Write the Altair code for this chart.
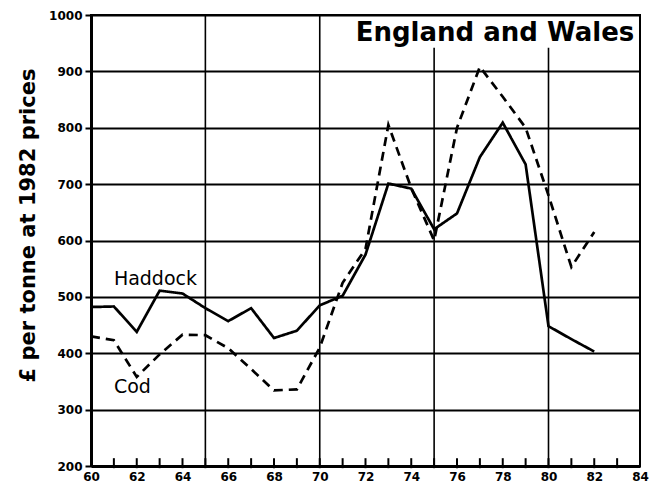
import altair as alt
import pandas as pd

# ---- data ----
years = list(range(60, 83))
haddock = [482, 483, 438, 511, 506, 480, 457, 480, 427, 440, 485, 502,
           575, 701, 692, 620, 648, 748, 809, 735, 448, 425, 403]
cod = [430, 423, 358, 398, 433, 432, 409, 372, 334, 336, 410, 525,
       585, 805, 693, 600, 800, 908, 855, 800, 680, 553, 615]
species = ["Haddock", "Cod"]

x_label_years = list(range(60, 85, 2))
minor_tick_years = list(range(61, 84))
y_ticks = list(range(200, 1001, 100))
grid_years = [65, 70, 75, 80]
grid_tops = [1000, 1000, 942, 942]

label_text = ["Haddock", "Cod"]
label_x = [61.0, 61.0]
label_y = [521, 329]
region_text = ["England and Wales"]
region_x = [83.75]
region_y = [954]

# ---- tables ----
df = pd.DataFrame({
    "year": years * 2,
    "price": haddock + cod,
    "species": ["Haddock"] * len(years) + ["Cod"] * len(years),
})
grid_df = pd.DataFrame({"gx": grid_years, "gtop": grid_tops, "gbot": [200] * len(grid_years)})
tick_df = pd.DataFrame({"tx": minor_tick_years,
                        "tmid": [205.0] * len(minor_tick_years)})
lab_df = pd.DataFrame({"text": label_text, "lx": label_x, "ly": label_y})
reg_df = pd.DataFrame({"text": region_text, "rx": region_x, "ry": region_y})

FONT = "DejaVu Sans"
xscale = alt.Scale(domain=[60, 84], nice=False, zero=False)
yscale = alt.Scale(domain=[200, 1000], nice=False, zero=False)

x_axis = alt.Axis(values=x_label_years, ticks=False, grid=False, title=None,
                  labelFont=FONT, labelFontWeight="bold", labelFontSize=12,
                  labelColor="black", labelPadding=5, labelFlush=False,
                  domainColor="black", domainWidth=3)
y_axis = alt.Axis(values=y_ticks, format="d", grid=True, gridColor="black",
                  gridWidth=2, gridOpacity=1, ticks=True, tickSize=6,
                  tickWidth=2, tickColor="black", domainColor="black",
                  domainWidth=3, labelFont=FONT, labelFontWeight="bold",
                  labelFontSize=12, labelColor="black", labelPadding=3,
                  labelFlush=False,
                  title="£ per tonne at 1982 prices", titleFont=FONT,
                  titleFontSize=21, titleFontWeight="bold", titleColor="black",
                  titleAngle=-90, titleX=-63, titleY=210, titleAlign="center",
                  titleBaseline="middle")

lines = alt.Chart(df).mark_line(color="black", strokeWidth=2.7).encode(
    x=alt.X("year:Q", scale=xscale, axis=x_axis),
    y=alt.Y("price:Q", scale=yscale, axis=y_axis),
    strokeDash=alt.StrokeDash("species:N",
                              scale=alt.Scale(domain=species, range=[[1, 0], [9, 6]]),
                              legend=None),
)

vgrid = alt.Chart(grid_df).mark_rule(color="black", strokeWidth=1.6).encode(
    x=alt.X("gx:Q", scale=xscale),
    y=alt.Y("gbot:Q", scale=yscale),
    y2="gtop:Q",
)

minor = alt.Chart(tick_df).mark_tick(color="black", orient="vertical",
                                     thickness=2, size=10, opacity=1).encode(
    x=alt.X("tx:Q", scale=xscale),
    y=alt.Y("tmid:Q", scale=yscale),
)

labels = alt.Chart(lab_df).mark_text(font=FONT, fontSize=19,
                                     align="left", baseline="alphabetic",
                                     color="black").encode(
    x=alt.X("lx:Q", scale=xscale),
    y=alt.Y("ly:Q", scale=yscale),
    text="text:N",
)

region = alt.Chart(reg_df).mark_text(font=FONT, fontSize=26, fontWeight="bold",
                                     align="right", baseline="alphabetic",
                                     color="black").encode(
    x=alt.X("rx:Q", scale=xscale),
    y=alt.Y("ry:Q", scale=yscale),
    text="text:N",
)

chart = alt.layer(vgrid, lines, labels, region, minor).properties(
    width=549, height=451,
    autosize=alt.AutoSizeParams(type="none"),
    padding={"left": 83, "top": 7, "right": 21, "bottom": 22},
    background="white",
).configure_view(stroke="black", strokeWidth=2)

chart.save("out.html", embed_options={"renderer": "svg", "actions": False})
